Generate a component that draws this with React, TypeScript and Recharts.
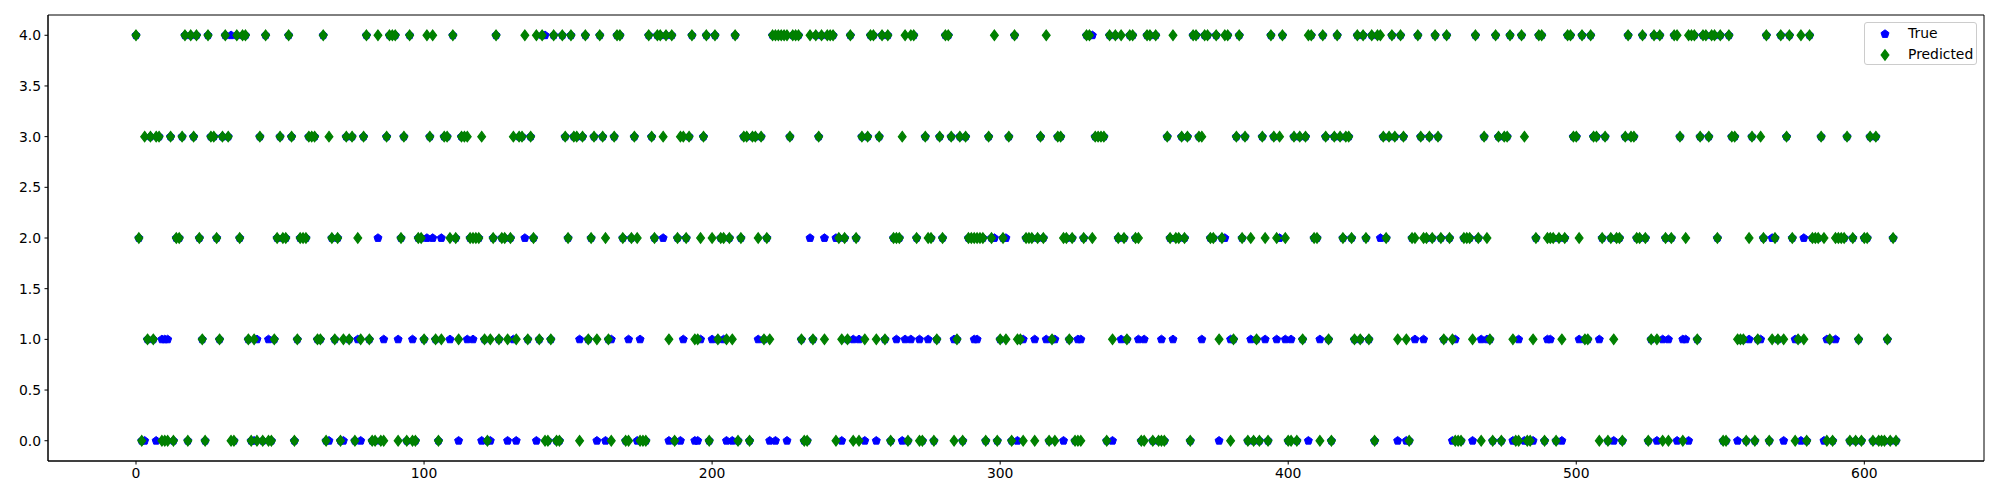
import { ScatterChart, Scatter, XAxis, YAxis, ReferenceArea } from 'recharts';

// predicted class for each sample index 0..611
const predicted = [
  4, 2, 0, 3, 1, 3, 1, 3, 3, 0,
  0, 0, 3, 0, 2, 2, 3, 4, 0, 4,
  3, 4, 2, 1, 0, 4, 3, 3, 2, 1,
  3, 4, 3, 0, 0, 4, 2, 4, 4, 1,
  0, 1, 0, 3, 0, 4, 0, 0, 1, 2,
  3, 2, 2, 4, 3, 0, 1, 2, 2, 2,
  3, 3, 3, 1, 1, 4, 0, 3, 2, 1,
  2, 0, 1, 3, 1, 3, 0, 2, 1, 3,
  4, 1, 0, 0, 4, 0, 0, 3, 4, 4,
  4, 0, 2, 3, 0, 4, 0, 0, 2, 2,
  1, 4, 3, 4, 1, 0, 1, 3, 3, 2,
  4, 2, 1, 3, 3, 3, 2, 2, 2, 2,
  3, 1, 0, 1, 2, 4, 1, 2, 2, 1,
  2, 3, 1, 3, 3, 4, 1, 3, 2, 4,
  1, 4, 0, 0, 1, 4, 0, 0, 4, 3,
  2, 4, 3, 3, 0, 3, 4, 1, 2, 3,
  1, 4, 3, 2, 1, 0, 3, 4, 4, 2,
  0, 0, 2, 3, 2, 0, 0, 0, 4, 3,
  2, 4, 4, 3, 4, 1, 4, 0, 2, 3,
  3, 2, 3, 4, 1, 1, 2, 3, 4, 0,
  2, 4, 1, 2, 2, 1, 2, 1, 4, 0,
  2, 3, 3, 0, 3, 3, 2, 3, 1, 2,
  1, 4, 4, 4, 4, 4, 4, 3, 4, 4,
  4, 1, 0, 0, 4, 1, 4, 3, 4, 1,
  4, 4, 4, 0, 2, 1, 2, 1, 4, 0,
  2, 0, 3, 1, 3, 4, 4, 1, 3, 4,
  1, 4, 0, 2, 2, 2, 3, 4, 0, 4,
  4, 2, 0, 0, 3, 2, 2, 0, 1, 3,
  2, 4, 4, 3, 0, 1, 3, 0, 3, 2,
  2, 2, 2, 2, 2, 0, 3, 2, 4, 0,
  1, 2, 1, 3, 0, 4, 1, 1, 0, 2,
  2, 2, 0, 2, 3, 2, 4, 0, 1, 0,
  3, 3, 2, 2, 1, 2, 0, 0, 0, 2,
  4, 4, 2, 3, 3, 3, 3, 0, 4, 1,
  4, 2, 4, 2, 1, 4, 4, 2, 2, 0,
  0, 4, 4, 0, 4, 0, 0, 0, 3, 2,
  4, 2, 2, 3, 2, 3, 0, 4, 4, 3,
  3, 4, 4, 2, 2, 4, 1, 2, 4, 4,
  0, 1, 3, 4, 2, 3, 0, 2, 0, 1,
  0, 3, 2, 0, 4, 3, 2, 3, 4, 2,
  0, 0, 3, 0, 3, 1, 3, 4, 4, 2,
  2, 0, 4, 3, 1, 0, 3, 4, 3, 2,
  3, 3, 2, 1, 4, 1, 4, 2, 1, 4,
  0, 4, 4, 3, 2, 3, 4, 3, 1, 4,
  3, 1, 0, 2, 2, 4, 3, 2, 2, 3,
  2, 4, 3, 2, 1, 4, 2, 1, 0, 0,
  0, 2, 2, 2, 1, 4, 2, 0, 3, 2,
  1, 0, 4, 3, 0, 3, 3, 4, 1, 0,
  0, 4, 3, 0, 0, 1, 2, 4, 4, 0,
  2, 2, 2, 0, 2, 1, 2, 4, 4, 3,
  3, 2, 4, 1, 1, 4, 3, 3, 0, 2,
  3, 0, 2, 1, 2, 2, 0, 3, 4, 3,
  3, 2, 2, 4, 2, 0, 1, 4, 1, 4,
  0, 2, 0, 2, 4, 4, 3, 0, 2, 4,
  4, 4, 1, 3, 4, 4, 3, 4, 4, 2,
  4, 0, 0, 4, 3, 3, 1, 1, 1, 0,
  2, 3, 0, 1, 3, 2, 4, 0, 1, 2,
  1, 4, 1, 3, 4, 2, 0, 1, 4, 1,
  0, 4, 2, 2, 2, 3, 2, 0, 1, 0,
  2, 2, 2, 2, 3, 0, 2, 0, 1, 0,
  2, 2, 3, 0, 3, 0, 0, 0, 1, 0,
  2, 0,
];

// samples where the true class differs from the prediction: [index, true class]
const trueDiffs: [number, number][] = [
  [3, 0], [7, 0], [9, 1], [10, 1], [11, 1], [33, 4], [41, 0], [42, 1], [46, 1],
  [67, 0], [72, 0], [77, 1], [78, 0], [84, 2], [86, 1], [91, 1], [96, 1],
  [101, 2], [103, 2], [106, 2], [109, 1], [112, 0], [115, 1], [117, 1], [120, 0],
  [123, 0], [129, 0], [131, 1], [132, 0], [135, 2], [139, 0], [142, 4],
  [154, 1], [160, 0], [163, 0], [165, 1], [171, 1], [174, 0], [175, 1], [183, 2],
  [185, 0], [189, 0], [190, 1], [194, 0],
  [195, 0], [196, 1], [200, 1], [204, 1], [205, 0], [207, 0], [216, 1], [220, 0],
  [222, 0], [226, 0], [234, 2], [239, 2], [243, 2],
  [245, 0], [249, 1], [251, 1], [253, 0], [257, 0], [264, 1], [266, 0], [267, 1],
  [269, 1], [272, 1], [275, 1], [284, 1], [291, 1],
  [292, 1], [298, 2], [302, 2], [306, 0], [308, 1], [312, 1], [316, 1], [319, 1],
  [322, 0], [327, 1], [328, 1], [332, 4], [339, 0], [342, 1],
  [348, 1], [350, 1], [356, 1], [360, 1], [370, 1], [376, 0], [378, 2], [380, 1],
  [387, 1], [392, 1],
  [396, 1], [397, 2], [399, 1], [401, 1], [407, 0], [411, 1], [432, 2], [438, 0],
  [441, 0], [444, 1], [447, 1], [457, 0], [458, 1], [464, 0], [467, 1], [469, 1],
  [478, 0], [480, 1], [482, 0], [485, 0], [490, 1],
  [491, 1], [495, 0], [501, 1], [508, 1], [513, 0], [528, 0], [530, 1], [532, 1],
  [535, 0], [537, 1],
  [538, 1], [539, 0], [556, 0], [560, 1], [564, 1], [568, 2], [572, 0], [576, 1],
  [578, 0], [579, 2], [586, 0], [587, 1], [590, 1],
];

const xTicks = [0, 100, 200, 300, 400, 500, 600];
const yTicks = [0, 0.5, 1, 1.5, 2, 2.5, 3, 3.5, 4];

const BLUE = '#0000ff';
const GREEN = '#008000';
const FONT = '"DejaVu Sans", sans-serif';

const diffMap = new Map(trueDiffs);
const trueData = predicted.map((p, i) => ({ x: i, y: diffMap.has(i) ? diffMap.get(i)! : p }));
const predData = predicted.map((p, i) => ({ x: i, y: p }));

function pentagonPoints(cx: number, cy: number, r: number): string {
  const pts: string[] = [];
  for (let k = 0; k < 5; k++) {
    const a = -Math.PI / 2 + (k * 2 * Math.PI) / 5;
    pts.push(`${cx + r * Math.cos(a)},${cy + r * Math.sin(a)}`);
  }
  return pts.join(' ');
}

function diamondPoints(cx: number, cy: number, w: number, h: number): string {
  return `${cx},${cy - h} ${cx + w},${cy} ${cx},${cy + h} ${cx - w},${cy}`;
}

const Pentagon = (props: any) => {
  const { cx, cy } = props;
  if (cx == null || cy == null) return <g />;
  return <polygon points={pentagonPoints(cx, cy, 4.2)} fill={BLUE} stroke={BLUE} strokeWidth={1} />;
};

const ThinDiamond = (props: any) => {
  const { cx, cy } = props;
  if (cx == null || cy == null) return <g />;
  return <polygon points={diamondPoints(cx, cy, 3.9, 5.2)} fill={GREEN} stroke={GREEN} strokeWidth={1.2} />;
};

function Legend() {
  return (
    <div
      style={{
        position: 'absolute',
        left: 1864,
        top: 22,
        width: 113,
        height: 43,
        border: '1px solid #cccccc',
        borderRadius: 3,
        background: 'rgba(255,255,255,0.8)',
        fontFamily: FONT,
        fontSize: 13.9,
        color: '#000',
        boxSizing: 'border-box',
      }}
    >
      <svg width={30} height={43} style={{ position: 'absolute', left: 5, top: 0 }}>
        <polygon points={pentagonPoints(15, 11, 4.2)} fill={BLUE} stroke={BLUE} strokeWidth={1} />
        <polygon points={diamondPoints(15, 32, 3.9, 5.2)} fill={GREEN} stroke={GREEN} strokeWidth={1.2} />
      </svg>
      <div style={{ position: 'absolute', left: 43, top: 2, lineHeight: '17px' }}>True</div>
      <div style={{ position: 'absolute', left: 43, top: 23, lineHeight: '17px' }}>Predicted</div>
    </div>
  );
}

export default function App() {
  const tickStyle = { fill: '#000', fontSize: 13.9, fontFamily: FONT };
  return (
    <div style={{ position: 'absolute', left: 0, top: 0, width: 2000, height: 500, background: '#fff' }}>
      <ScatterChart width={2000} height={500} margin={{ top: 15, right: 16, bottom: 0, left: 0 }}>
        <XAxis
          type="number"
          dataKey="x"
          domain={[-30.55, 641.55]}
          ticks={xTicks}
          interval={0}
          height={39}
          tickSize={3.5}
          tickMargin={3.5}
          tick={tickStyle}
          tickLine={{ stroke: '#000' }}
          axisLine={{ stroke: '#000' }}
          allowDataOverflow
        />
        <YAxis
          type="number"
          dataKey="y"
          domain={[-0.2, 4.2]}
          ticks={yTicks}
          interval={0}
          width={48}
          tickSize={3.5}
          tickMargin={3.5}
          tick={tickStyle}
          tickFormatter={(v: number) => v.toFixed(1)}
          tickLine={{ stroke: '#000' }}
          axisLine={{ stroke: '#000' }}
          allowDataOverflow
        />
        <Scatter name="True" data={trueData} shape={Pentagon} isAnimationActive={false} />
        <Scatter name="Predicted" data={predData} shape={ThinDiamond} isAnimationActive={false} />
        <ReferenceArea
          x1={-30.55}
          x2={641.55}
          y1={-0.2}
          y2={4.2}
          fill="none"
          stroke="#000"
          strokeWidth={1}
          ifOverflow="visible"
        />
      </ScatterChart>
      <Legend />
    </div>
  );
}
